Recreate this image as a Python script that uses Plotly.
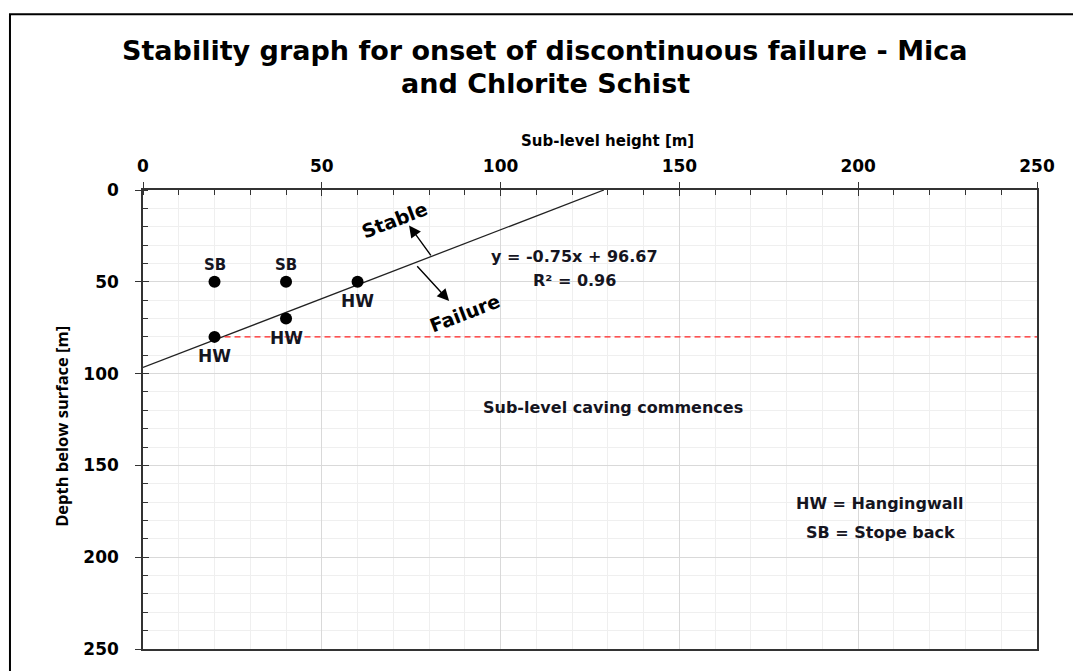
import plotly.graph_objects as go

# Observed points: sub-level height (m) vs depth below surface (m)
sb_height = [20, 40]
sb_depth = [50, 50]
hw_height = [60, 40, 20]
hw_depth = [50, 70, 80]

# Linear fit through the hangingwall points
fit_slope = -0.75
fit_intercept = 96.67
fit_r2 = 0.96

# Depth at which sub-level caving commences
caving_depth = 80
caving_start_height = 20

x_ticks = [0, 50, 100, 150, 200, 250]
y_ticks = [0, 50, 100, 150, 200, 250]

FONT = "DejaVu Sans, Open Sans, sans-serif"
NARROW = "Open Sans, DejaVu Sans Condensed, sans-serif"
TXT = "#15151f"
AX = "#333333"

fig = go.Figure()

# trend line from the surface intercept down to the depth axis
x_end = -fit_intercept / fit_slope
fig.add_trace(go.Scatter(
    x=[0, x_end], y=[fit_intercept, fit_intercept + fit_slope * x_end],
    mode="lines", line=dict(color="#222222", width=1.3),
    hoverinfo="skip", showlegend=False))

# caving threshold line
fig.add_trace(go.Scatter(
    x=[caving_start_height, x_ticks[-1]], y=[caving_depth, caving_depth],
    mode="lines", line=dict(color="#ff2020", width=1.3, dash="6px,4px"),
    hoverinfo="skip", showlegend=False))

# observation points
fig.add_trace(go.Scatter(
    x=sb_height + hw_height, y=sb_depth + hw_depth, mode="markers",
    marker=dict(color="black", size=12), showlegend=False))

annotations = []
# point labels: stope back above, hangingwall below
for xv, yv in zip(sb_height, sb_depth):
    annotations.append(dict(text="<b>SB</b>", x=xv, y=yv, yshift=17, showarrow=False,
                            font=dict(family=FONT, size=15, color=TXT)))
for xv, yv in zip(hw_height, hw_depth):
    annotations.append(dict(text="<b>HW</b>", x=xv, y=yv, yshift=-19, showarrow=False,
                            font=dict(family=FONT, size=17, color=TXT)))

annotations += [
    dict(text="<b>Stability graph for onset of discontinuous failure - Mica</b>",
         xref="paper", yref="paper", x=0.4497, y=1.304, xanchor="center", yanchor="middle",
         showarrow=False, font=dict(family=FONT, size=27, color="black")),
    dict(text="<b>and Chlorite Schist</b>",
         xref="paper", yref="paper", x=0.4497, y=1.231, xanchor="center", yanchor="middle",
         showarrow=False, font=dict(family=FONT, size=27, color="black")),
    dict(text="<b>Sub-level height [m]</b>", xref="paper", yref="paper",
         x=0.52, y=1.107, xanchor="center", yanchor="middle",
         showarrow=False, font=dict(family=FONT, size=15, color="black")),
    dict(text="<b>Depth below surface [m]</b>", xref="paper", yref="paper",
         x=-0.0906, y=0.484, xanchor="center", yanchor="middle", textangle=-90,
         showarrow=False, font=dict(family=NARROW, size=16.5, color="black")),
    dict(text=f"<b>y = {fit_slope}x + {fit_intercept}</b>",
         x=120.8, y=36.4, showarrow=False, xanchor="center", yanchor="middle",
         font=dict(family=FONT, size=16, color=TXT)),
    dict(text=f"<b>R² = {fit_r2}</b>",
         x=120.8, y=49.3, showarrow=False, xanchor="center", yanchor="middle",
         font=dict(family=FONT, size=16, color=TXT)),
    dict(text="<b>Stable</b>", x=70.2, y=16.1, showarrow=False, textangle=-21,
         font=dict(family=FONT, size=19, color="black")),
    dict(text="<b>Failure</b>", x=90.0, y=66.9, showarrow=False, textangle=-21,
         font=dict(family=FONT, size=19, color="black")),
    dict(text="", x=74.4, y=19.3, ax=80.8, ay=36.4, axref="x", ayref="y",
         showarrow=True, arrowhead=2, arrowsize=1.7, arrowwidth=1.4, arrowcolor="black"),
    dict(text="", x=85.6, y=60.5, ax=76.3, ay=40.7, axref="x", ayref="y",
         showarrow=True, arrowhead=2, arrowsize=1.7, arrowwidth=1.4, arrowcolor="black"),
    dict(text="<b>Sub-level caving commences</b>", x=131.5, y=118.4, showarrow=False,
         font=dict(family=FONT, size=16, color=TXT)),
    dict(text="<b>HW = Hangingwall</b>", x=206.2, y=170.8, showarrow=False,
         font=dict(family=FONT, size=16, color=TXT)),
    dict(text="<b>SB = Stope back</b>", x=206.2, y=186.8, showarrow=False,
         font=dict(family=FONT, size=16, color=TXT)),
]

axis_common = dict(
    showline=True, linecolor=AX, linewidth=1.5, mirror=True,
    ticks="outside", ticklen=6, tickwidth=1.3, tickcolor=AX,
    showgrid=True, gridcolor="#d9d9d9", gridwidth=1, zeroline=False,
    tickfont=dict(family=FONT, size=17, color="black"),
    minor=dict(dtick=10, ticks="inside", ticklen=5, tickwidth=1.2, tickcolor=AX,
               showgrid=True, gridcolor="#efefef", gridwidth=1),
)

# overlay axes carry the inner half of the major ticks so they cross the axis line
inner_common = dict(showline=False, showgrid=False, zeroline=False, showticklabels=False,
                    ticks="inside", ticklen=6, tickwidth=1.3, tickcolor=AX)

fig.update_layout(
    width=1073, height=671,
    margin=dict(l=143, r=36, t=190, b=14),
    paper_bgcolor="white", plot_bgcolor="white",
    xaxis=dict(range=[0, 250], side="top", tickvals=x_ticks, ticklabelstandoff=3,
               ticktext=[f"<b>{v}</b>" for v in x_ticks], **axis_common),
    yaxis=dict(range=[250, 0], tickvals=y_ticks, ticklabelstandoff=13,
               ticktext=[f"<b>{v}</b>" for v in y_ticks], **axis_common),
    xaxis2=dict(range=[0, 250], side="top", overlaying="x", tickvals=x_ticks, **inner_common),
    yaxis2=dict(range=[250, 0], overlaying="y", tickvals=y_ticks, **inner_common),
    annotations=annotations,
    shapes=[dict(type="rect", xref="paper", yref="paper",
                 x0=-0.1488, y0=-0.2, x1=1.2, y1=1.383,
                 line=dict(color="black", width=2), fillcolor="rgba(0,0,0,0)", layer="above")],
)

# invisible trace to activate the overlay axes
fig.add_trace(go.Scatter(x=[None], y=[None], xaxis="x2", yaxis="y2",
                         showlegend=False, hoverinfo="skip"))

fig.write_html("out.html")
